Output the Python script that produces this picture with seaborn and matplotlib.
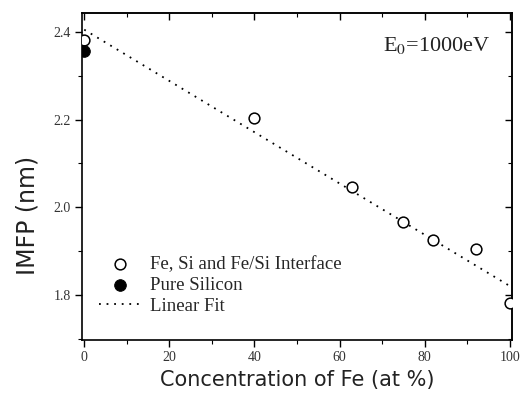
import matplotlib
matplotlib.use("Agg")
import matplotlib.pyplot as plt
import seaborn as sns
import pandas as pd
from matplotlib.ticker import MultipleLocator, FixedLocator, FixedFormatter

# Data
conc_fe = [0, 40, 63, 75, 82, 92, 100]
imfp_fe = [2.382, 2.204, 2.046, 1.966, 1.924, 1.904, 1.782]
conc_si = [0]
imfp_si = [2.357]
fit_x = [0, 100]
fit_y = [2.405, 1.82]

x_ticks = [0, 20, 40, 60, 80, 100]
y_ticks = [1.8, 2.0, 2.2, 2.4]
y_labels = ["1.8", "2.0", "2.2", "2.4"]

sns.set_theme(style="ticks")
plt.rcParams['font.family'] = ['Liberation Serif', 'DejaVu Serif']
plt.rcParams['mathtext.fontset'] = 'stix'

fig = plt.figure(figsize=(5.23, 4.0), dpi=100)
ax = fig.add_axes([0.157, 0.15, 0.822, 0.8175])

df_fe = pd.DataFrame({"x": conc_fe, "y": imfp_fe})
df_si = pd.DataFrame({"x": conc_si, "y": imfp_si})
df_fit = pd.DataFrame({"x": fit_x, "y": fit_y})

sns.lineplot(data=df_fit, x="x", y="y", ax=ax, color="black", linestyle=(0, (1, 3.2)),
             linewidth=1.3, label="Linear Fit", zorder=1)
sns.scatterplot(data=df_fe, x="x", y="y", ax=ax, marker="o", s=60, facecolor="white",
                edgecolor="black", linewidth=1.1, label="Fe, Si and Fe/Si Interface", zorder=3)
sns.scatterplot(data=df_si, x="x", y="y", ax=ax, marker="o", s=70, color="black",
                edgecolor="black", label="Pure Silicon", zorder=4)

ax.set_xlim(-0.5, 100.5)
ax.set_ylim(1.697, 2.443)
ax.xaxis.set_major_locator(FixedLocator(x_ticks))
ax.xaxis.set_minor_locator(MultipleLocator(10))
ax.yaxis.set_major_locator(FixedLocator(y_ticks))
ax.yaxis.set_major_formatter(FixedFormatter(y_labels))
ax.yaxis.set_minor_locator(MultipleLocator(0.1))
ax.tick_params(which="both", direction="out", color="black", labelsize=10,
               labelcolor="#333333", pad=3)
ax.tick_params(which="major", length=5, width=1)
ax.tick_params(which="minor", length=3, width=0.8)
# mirrored inward ticks on top and right
secx = ax.secondary_xaxis("top")
secx.xaxis.set_major_locator(FixedLocator(x_ticks))
secx.xaxis.set_minor_locator(MultipleLocator(10))
secx.tick_params(which="both", direction="in", labeltop=False, color="black")
secx.tick_params(which="major", length=5, width=1)
secx.tick_params(which="minor", length=3, width=0.8)
secy = ax.secondary_yaxis("right")
secy.yaxis.set_major_locator(FixedLocator(y_ticks))
secy.yaxis.set_minor_locator(MultipleLocator(0.1))
secy.tick_params(which="both", direction="in", labelright=False, color="black")
secy.tick_params(which="major", length=5, width=1)
secy.tick_params(which="minor", length=3, width=0.8)
for s in ax.spines.values():
    s.set_color("black")
    s.set_linewidth(1.2)
for sa in (secx, secy):
    for s in sa.spines.values():
        s.set_linewidth(1.2)

ax.set_xlabel("Concentration of Fe (at %)", fontsize=15, family="DejaVu Sans", color="#222222", labelpad=4)
ax.set_ylabel("IMFP (nm)", fontsize=17, family="DejaVu Sans", color="#222222")
ax.yaxis.set_label_coords(-0.10, 0.38)

ax.text(0.95, 0.90, r"E$_0$=1000eV", transform=ax.transAxes, ha="right", va="center",
        fontsize=16, color="#222222")

handles, labels = ax.get_legend_handles_labels()
order = [labels.index("Fe, Si and Fe/Si Interface"), labels.index("Pure Silicon"), labels.index("Linear Fit")]
ax.legend([handles[i] for i in order], [labels[i] for i in order], loc="lower left",
          bbox_to_anchor=(0.0, 0.025), frameon=False, fontsize=13.5, handlelength=2.2,
          handletextpad=0.5, labelspacing=0.2)

fig.savefig("out.png", dpi=100)
